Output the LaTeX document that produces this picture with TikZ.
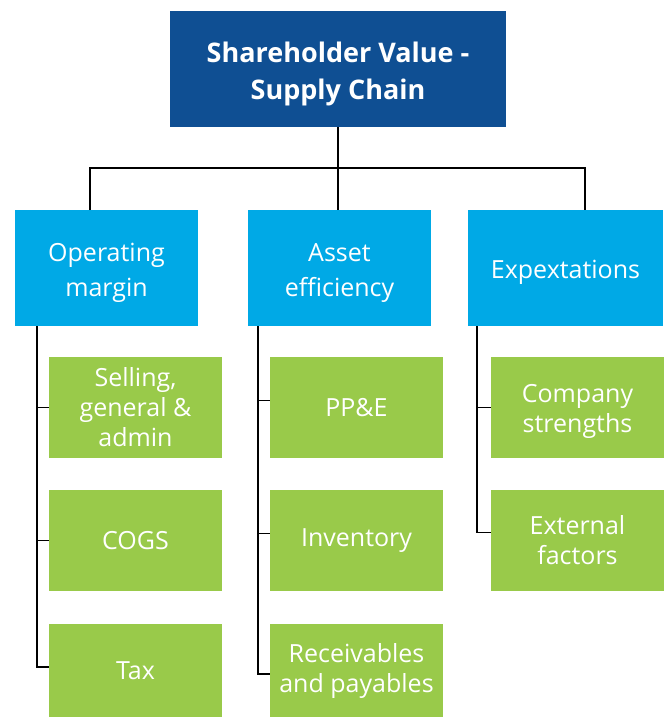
\documentclass[tikz,border=0pt]{standalone}
\usepackage{fontspec}
\setmainfont{Open Sans}
\definecolor{darkblue}{HTML}{0F4F93}
\definecolor{lightblue}{HTML}{00A9E6}
\definecolor{leafgreen}{HTML}{99CA4A}
\newcommand{\lowerby}[2]{\raisebox{-#1}[0pt][0pt]{\begin{tabular}{@{}c@{}}#2\end{tabular}}}
\begin{document}
\begin{tikzpicture}[x=1pt,y=-1pt,
  box/.style={rectangle,inner sep=0pt,align=center,text=white},
  topbox/.style={box,fill=darkblue,minimum width=336pt,minimum height=116pt,font=\fontsize{27}{37}\selectfont\bfseries},
  midbox/.style={box,fill=lightblue,minimum height=116pt,font=\fontsize{25}{35}\selectfont},
  leafbox/.style={box,fill=leafgreen,minimum width=173pt,font=\fontsize{25}{30}\selectfont},
  link/.style={draw=black,line width=1.5pt}]
\useasboundingbox (0,0) rectangle (670,717);
\node[topbox] (top) at (338,69) {\lowerby{11pt}{Shareholder Value -\\Supply Chain}};
\node[midbox,minimum width=183pt] (om) at (106.5,268) {\lowerby{10pt}{Operating\\margin}};
\node[midbox,minimum width=183pt] (ae) at (339.5,268) {\lowerby{10pt}{Asset\\efficiency}};
\node[midbox,minimum width=195pt] (ex) at (565.5,268) {\lowerby{10pt}{Expextations}};
% column 1
\node[leafbox,minimum height=101pt] (sga) at (135.5,407.5) {Selling,\\general \&\\admin};
\node[leafbox,minimum height=101pt] (cogs) at (135.5,540.5) {COGS};
\node[leafbox,minimum height=93pt] (tax) at (135.5,670.5) {Tax};
% column 2
\node[leafbox,minimum height=101pt] (ppe) at (356.5,407.5) {PP\&E};
\node[leafbox,minimum height=101pt] (inv) at (356.5,540.5) {Inventory};
\node[leafbox,minimum height=93pt] (rec) at (356.5,670.5) {Receivables\\and payables};
% column 3
\node[leafbox,minimum height=101pt] (cs) at (577.5,407.5) {\lowerby{10pt}{Company\\strengths}};
\node[leafbox,minimum height=101pt] (ef) at (577.5,540.5) {External\\factors};
% top connectors
\coordinate (bus) at (338,168);
\coordinate (omtop) at (90,210);
\coordinate (extop) at (585,210);
\draw[link] (top.south) -- (ae.north -| top.south);
\draw[link] (omtop) |- (bus) -| (extop);
% column rails
\coordinate (r1) at (37,326);
\coordinate (r2) at (258,326);
\coordinate (r3) at (477,326);
\draw[link] (r1) |- ([yshift=3.5pt]tax.west);
\draw[link] (r1 |- sga.west) -- (sga.west);
\draw[link] (r1 |- cogs.west) -- (cogs.west);
\draw[link] (r2) |- ([yshift=-3.5pt]rec.west);
\draw[link] (r2 |- ppe.west) ++(0,-7) -- ([yshift=7pt]ppe.west);
\draw[link] (r2 |- inv.west) ++(0,-7) -- ([yshift=7pt]inv.west);
\draw[link] (r3) |- ([yshift=8pt]ef.west);
\draw[link] (r3 |- cs.west) -- (cs.west);
\end{tikzpicture}
\end{document}
